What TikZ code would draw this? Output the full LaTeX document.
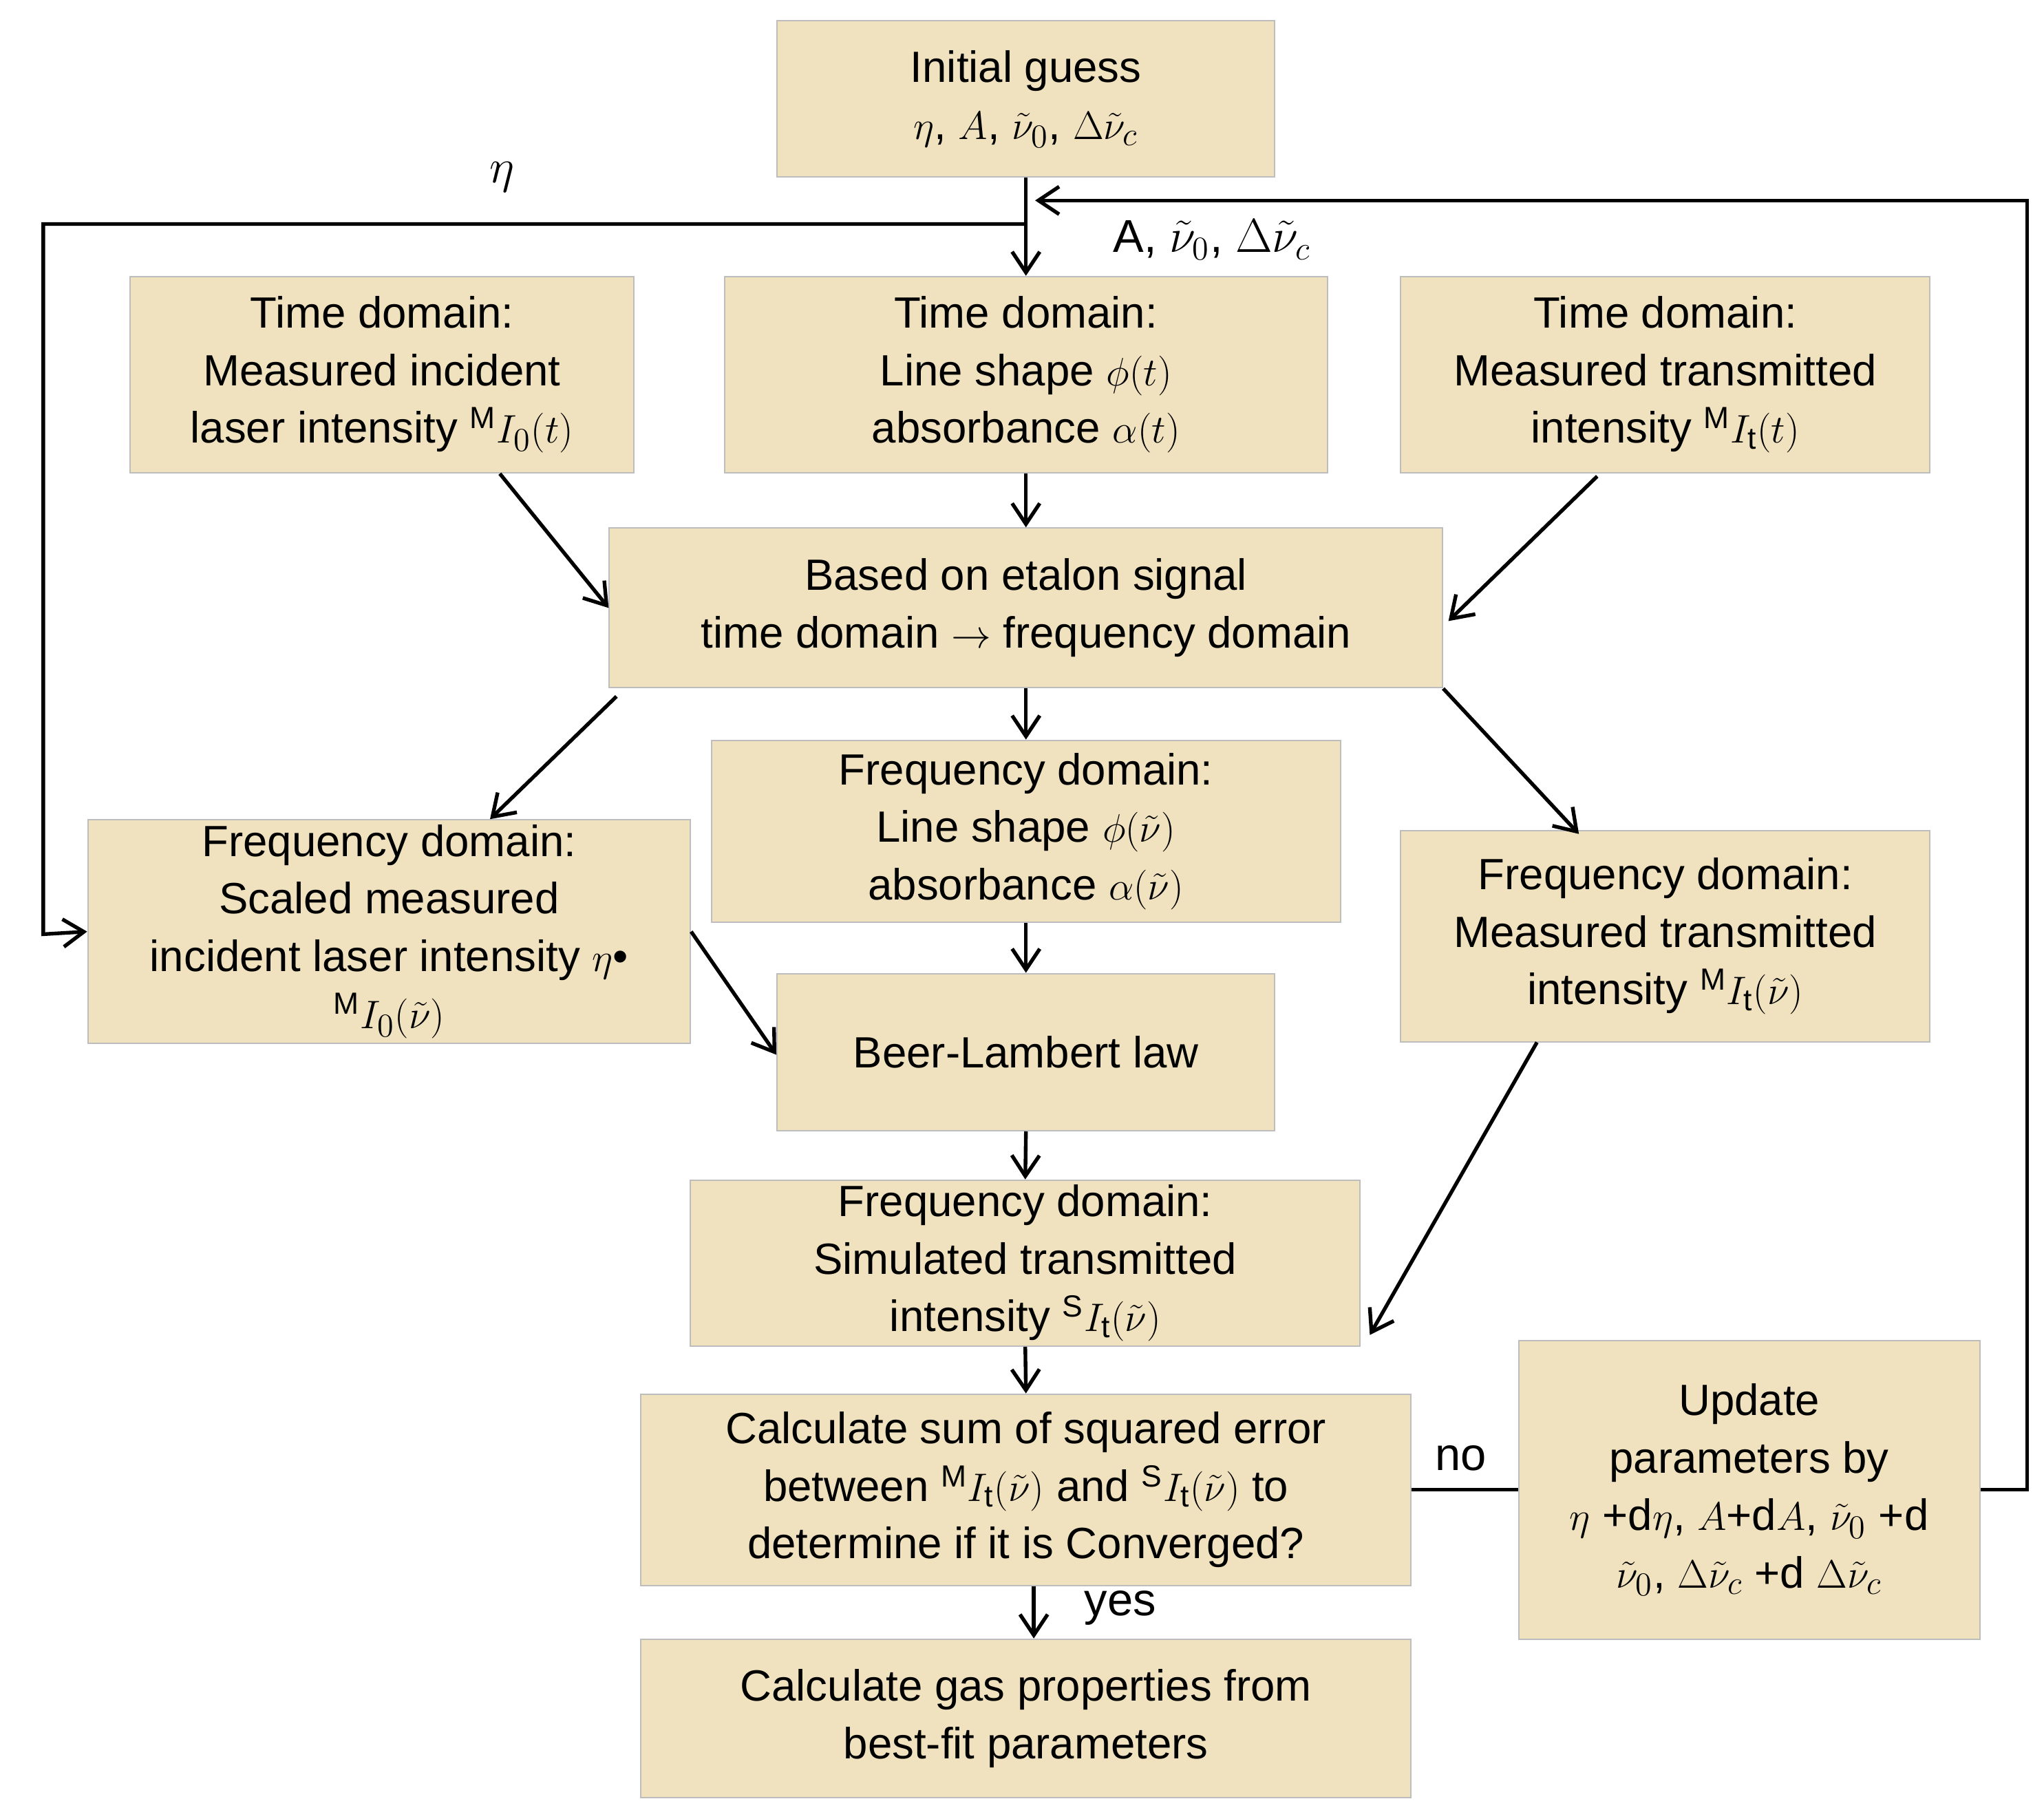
\documentclass[tikz,border=0pt]{standalone}
\usepackage{fontspec}
\setmainfont{Liberation Sans}
\usetikzlibrary{arrows.meta}
\definecolor{boxfill}{HTML}{F0E2BE}
\definecolor{boxline}{HTML}{BDBDBD}
\begin{document}
\begin{tikzpicture}[x=0.02cm,y=-0.02cm,
  box/.style={draw=boxline,fill=boxfill,line width=0.6pt,align=center,inner sep=2pt,
    font=\fontsize{19}{25}\selectfont},
  arr/.style={line width=1.6pt,-{Straight Barb[length=9pt,width=12pt,line width=1.6pt]}},
  ln/.style={line width=1.6pt},
  lab/.style={font=\fontsize{20}{24}\selectfont}]
\useasboundingbox (0,0) rectangle (1560,1381);
\node[box,minimum width=7.6cm,minimum height=2.38cm] (init) at (783,75.5) {Initial guess\\ $\eta$, $A$, $\tilde\nu_0$, $\Delta\tilde\nu_c$};
\node[box,minimum width=7.7cm,minimum height=3cm] (tdi) at (291.5,286) {Time domain:\\ Measured incident\\ laser intensity \textsuperscript{M}$I_0(t)$};
\node[box,minimum width=9.2cm,minimum height=3cm] (tdl) at (783,286) {Time domain:\\ Line shape $\phi(t)$\\ absorbance $\alpha(t)$};
\node[box,minimum width=8.08cm,minimum height=3cm] (tdt) at (1271,286) {Time domain:\\ Measured transmitted\\ intensity \textsuperscript{M}$I_\mathrm{t}(t)$};
\node[box,minimum width=12.72cm,minimum height=2.44cm] (et) at (783,464) {Based on etalon signal\\ time domain $\rightarrow$ frequency domain};
\node[box,minimum width=9.2cm,minimum height=3.36cm] (fds) at (297,711) {Frequency domain:\\ Scaled measured\\ incident laser intensity $\eta$\textbullet\\ \textsuperscript{M}$I_0(\tilde\nu)$};
\node[box,minimum width=9.6cm,minimum height=2.78cm] (fdl) at (783,634.5) {Frequency domain:\\ Line shape $\phi(\tilde\nu)$\\ absorbance $\alpha(\tilde\nu)$};
\node[box,minimum width=8.08cm,minimum height=3.22cm] (fdt) at (1271,714.5) {Frequency domain:\\ Measured transmitted\\ intensity \textsuperscript{M}$I_\mathrm{t}(\tilde\nu)$};
\node[box,minimum width=7.6cm,minimum height=2.4cm] (beer) at (783,803) {Beer-Lambert law};
\node[box,minimum width=10.22cm,minimum height=2.4cm] (sim) at (782.5,964) {Frequency domain:\\ Simulated transmitted\\ intensity \textsuperscript{S}$I_\mathrm{t}(\tilde\nu)$};
\node[box,minimum width=11.76cm,minimum height=2.92cm] (sse) at (783,1137) {Calculate sum of squared error\\ between \textsuperscript{M}$I_\mathrm{t}(\tilde\nu)$ and \textsuperscript{S}$I_\mathrm{t}(\tilde\nu)$ to\\ determine if it is Converged?};
\node[box,minimum width=7.04cm,minimum height=4.56cm] (upd) at (1335,1137) {Update\\ parameters by\\ $\eta$ +d$\eta$, $A$+d$A$, $\tilde\nu_0$ +d\\ $\tilde\nu_0$, $\Delta\tilde\nu_c$ +d $\Delta\tilde\nu_c$};
\node[box,minimum width=11.76cm,minimum height=2.42cm] (gas) at (783,1311.5) {Calculate gas properties from\\ best-fit parameters};

\coordinate (j) at (783,171);
\draw[arr] (init.south) -- (tdl.north);
\draw[arr] (j) -- (33,171) -- (33,713) -- (fds.west);
\node[lab] (leta) at (383,135) {$\eta$};
\draw[arr] (upd.east) -- (1547,1137) -- (1547,153) -- (790,153);
\node[lab] (lA) at (925,183) {A, $\tilde\nu_0$, $\Delta\tilde\nu_c$};
\draw[arr] (tdl.south) -- (et.north);
\draw[arr] ([xshift=1.8cm]tdi.south) -- ([yshift=0cm]et.west);
\draw[arr] ([xshift=-1.04cm,yshift=-0.04cm]tdt.south) -- ([xshift=0.08cm,yshift=-0.2cm]et.east);
\draw[arr] ([xshift=0.12cm,yshift=-0.12cm]et.south west) -- ([xshift=1.54cm]fds.north);
\draw[arr] (et.south) -- (fdl.north);
\draw[arr] (et.south east) -- ([xshift=-1.32cm,yshift=-0.06cm]fdt.north);
\draw[arr] (fdl.south) -- (beer.north);
\draw[arr] (fds.east) -- ([yshift=-0.04cm]beer.west);
\draw[arr] (beer.south) -- (sim.north);
\draw[arr] ([xshift=-1.96cm]fdt.south) -- ([xshift=0.14cm,yshift=0.18cm]sim.south east);
\draw[arr] (sim.south) -- (sse.north);
\draw[ln] (sse.east) -- (upd.west);
\node[lab] (lno) at (1115,1113) {no};
\draw[arr] ([xshift=0.12cm]sse.south) -- ([xshift=0.12cm]gas.north);
\node[lab] (lyes) at (855,1227) {yes};
\end{tikzpicture}
\end{document}
